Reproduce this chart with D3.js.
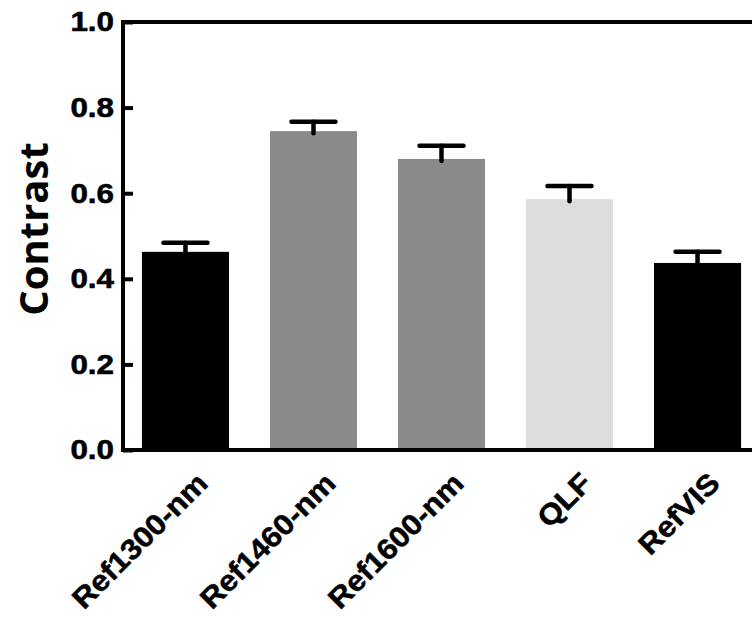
<!DOCTYPE html>
<html>
<head>
<meta charset="utf-8">
<script src="https://cdn.jsdelivr.net/npm/d3@7"></script>
<style>
  html, body { margin: 0; padding: 0; background: #fff; }
  svg { display: block; }
</style>
</head>
<body>
<svg id="chart" width="752" height="617"></svg>
<script>
const categories = ["Ref1300-nm", "Ref1460-nm", "Ref1600-nm", "QLF", "RefVIS"];
const means = [0.463, 0.745, 0.680, 0.586, 0.437];
const errors = [0.021, 0.022, 0.031, 0.031, 0.026];
const barColors = ["#000000", "#8a8a8a", "#8a8a8a", "#dcdcdc", "#000000"];
const yTicks = [0, 0.2, 0.4, 0.6, 0.8, 1.0];
const yTitle = "Contrast";

(function () {
const svg = d3.select("#chart");
const pL = 123, pR = 760, pT = 22, pB = 450;

const x = d3.scaleBand().domain(categories).range([pL, pR])
  .paddingInner(0.32).paddingOuter(0.148);
const y = d3.scaleLinear().domain([0, 1]).range([pB, pT]);

const data = categories.map((c, i) => ({ c, m: means[i], e: errors[i], col: barColors[i] }));

function widen(sel, k) {
  sel.each(function () {
    const len = this.getComputedTextLength();
    d3.select(this).attr("textLength", len * k).attr("lengthAdjust", "spacingAndGlyphs");
  });
}

// bars
svg.append("g").selectAll("rect").data(data).join("rect")
  .attr("x", d => x(d.c))
  .attr("width", x.bandwidth())
  .attr("y", d => y(d.m))
  .attr("height", d => y(0) - y(d.m))
  .attr("fill", d => d.col);

// error bars (upper)
const eb = svg.append("g").attr("stroke", "#000").attr("stroke-width", 4.5).attr("stroke-linecap", "round");
data.forEach(d => {
  const cx = x(d.c) + x.bandwidth() / 2;
  eb.append("line").attr("x1", cx).attr("x2", cx).attr("y1", y(d.m) + 2).attr("y2", y(d.m + d.e));
  eb.append("line").attr("x1", cx - 22).attr("x2", cx + 22).attr("y1", y(d.m + d.e)).attr("y2", y(d.m + d.e));
});

// frame
svg.append("path")
  .attr("d", `M${pR},${pT}H${pL}V${pB}H${pR}`)
  .attr("fill", "none").attr("stroke", "#000").attr("stroke-width", 4);

// y axis
const yAxis = d3.axisLeft(y).tickValues(yTicks).tickFormat(d3.format(".1f")).tickSizeInner(-10).tickSizeOuter(0).tickPadding(9);
const gy = svg.append("g").attr("transform", `translate(${pL},0)`).call(yAxis);
gy.select(".domain").remove();
gy.selectAll(".tick line").attr("stroke", "#000").attr("stroke-width", 4);
gy.selectAll(".tick text")
  .attr("font-family", "'Liberation Sans', Arial, sans-serif")
  .attr("font-weight", "bold").attr("font-size", 28).attr("fill", "#000")
  .attr("stroke", "#000").attr("stroke-width", 0.6)
  .call(widen, 1.12);

// x labels
svg.append("g").selectAll("text").data(categories).join("text")
  .attr("transform", d => `translate(${x(d) + x.bandwidth() / 2 + 24},${485}) rotate(-45)`)
  .attr("text-anchor", "end")
  .attr("font-family", "'Liberation Sans', Arial, sans-serif")
  .attr("font-weight", "bold").attr("font-size", 29)
  .attr("stroke", "#000").attr("stroke-width", 0.5)
  .text(d => d)
  .call(widen, 1.08);

// y title
svg.append("text")
  .attr("transform", `translate(48,229) rotate(-90)`)
  .attr("text-anchor", "middle")
  .attr("font-family", "'Open Sans', sans-serif")
  .attr("font-weight", "bold").attr("font-size", 40)
  .text(yTitle);
})();
</script>
</body>
</html>
